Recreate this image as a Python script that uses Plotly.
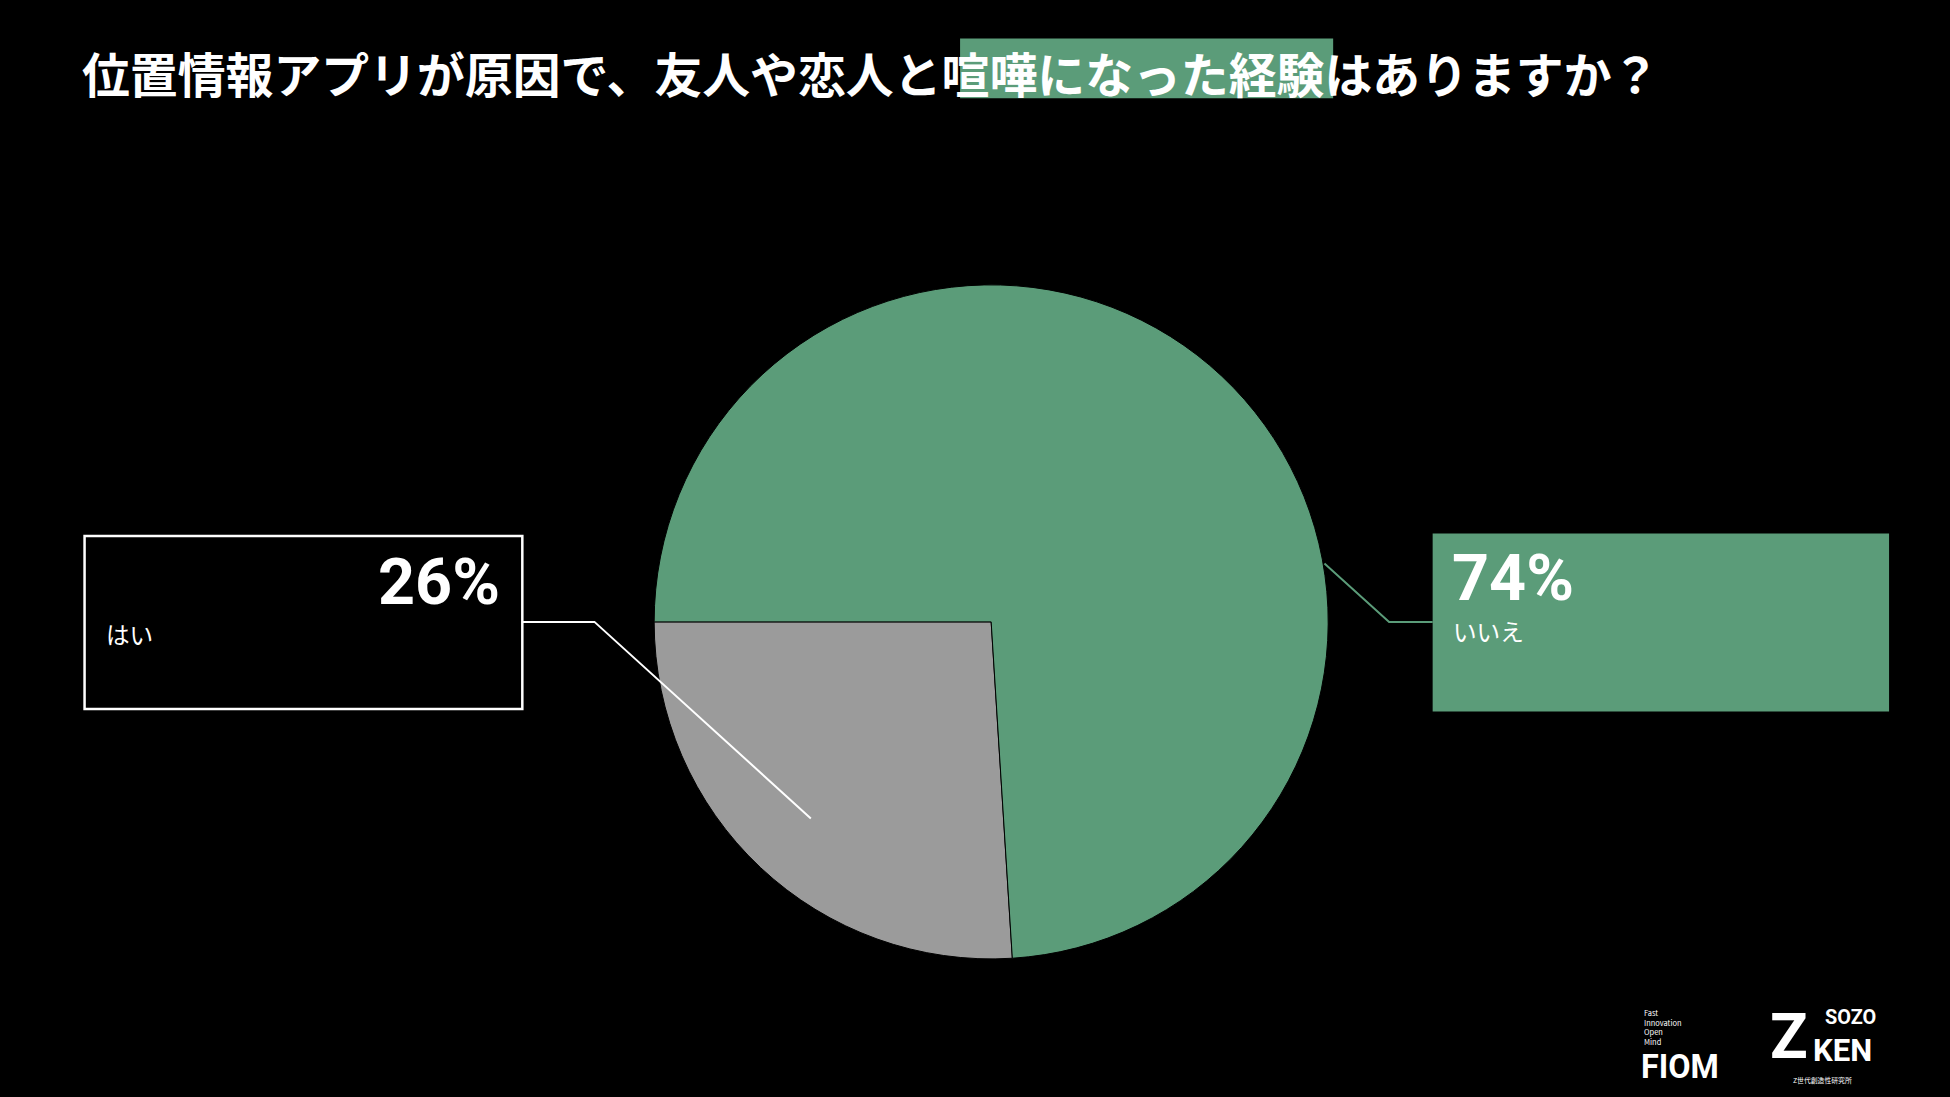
import plotly.graph_objects as go

labels = ["はい", "いいえ"]
values = [26, 74]
colors = ["#9b9b9b", "#5b9c79"]
title_text = "位置情報アプリが原因で、友人や恋人と喧嘩になった経験はありますか？"

W, H = 1568, 882
S = 1950 / 1568
def X(x): return x / W
def Y(y): return 1 - y / H
F = "Noto Sans CJK JP"

fig = go.Figure(go.Pie(
    labels=labels, values=values, marker=dict(colors=colors, line=dict(color="#000", width=1)),
    sort=False, direction="clockwise", rotation=176.4, textinfo="none", hoverinfo="label+percent",
    domain=dict(x=[X(526), X(1068)], y=[Y(771), Y(229)]), showlegend=False))

shapes = [
    dict(type="rect", xref="paper", yref="paper", x0=X(772), x1=X(1072), y0=Y(79), y1=Y(31),
         fillcolor="#5b9c79", line=dict(width=0), layer="below"),
    dict(type="rect", xref="paper", yref="paper", x0=X(68), x1=X(420), y0=Y(570), y1=Y(431),
         line=dict(color="white", width=2.5)),
    dict(type="path", xref="paper", yref="paper",
         path=f"M {X(420)},{Y(500)} L {X(478)},{Y(500)} L {X(652)},{Y(658)}",
         line=dict(color="white", width=2)),
    dict(type="rect", xref="paper", yref="paper", x0=X(1152), x1=X(1519), y0=Y(572), y1=Y(429),
         fillcolor="#5b9c79", line=dict(width=0)),
    dict(type="path", xref="paper", yref="paper",
         path=f"M {X(1065)},{Y(453)} L {X(1117)},{Y(500)} L {X(1152)},{Y(500)}",
         line=dict(color="#5b9c79", width=2)),
]

def ann(x, y, t, size, xa="left", bold=False, color="white", font=F, align="left"):
    return dict(x=X(x), y=Y(y), xref="paper", yref="paper", text=f"<b>{t}</b>" if bold else t,
                showarrow=False, xanchor=xa, yanchor="middle", align=align,
                font=dict(family=font, size=size * S, color=color))

anns = [
    ann(64, 58, title_text, 38.5, bold=True),
    ann(404, 468, f"{values[0]}%", 52, xa="right", bold=True, font="Roboto"),
    ann(84, 510, labels[0], 19),
    ann(1166, 465, f"{values[1]}%", 52, bold=True, font="Roboto"),
    ann(1167, 507, labels[1], 19),
    ann(1320, 826, "Fast<br>Innovation<br>Open<br>Mind", 6),
    ann(1318, 858, "<b>FIOM</b>", 26, font="Roboto"),
    ann(1422, 833, "<b>Z</b>", 50, font="Roboto"),
    ann(1466, 818, "<b>SOZO</b>", 16, font="Roboto"),
    ann(1456, 845, "<b>KEN</b>", 25, font="Roboto"),
    ann(1440, 868, "Z世代創造性研究所", 5.5),
]

fig.update_layout(width=1950, height=1097, margin=dict(l=0, r=0, t=0, b=0),
                  paper_bgcolor="black", plot_bgcolor="black", shapes=shapes, annotations=anns)
fig.write_html("out.html", config={"displayModeBar": False},
               post_script="document.body.style.margin='0';document.body.style.background='black';document.body.style.overflow='hidden';")
